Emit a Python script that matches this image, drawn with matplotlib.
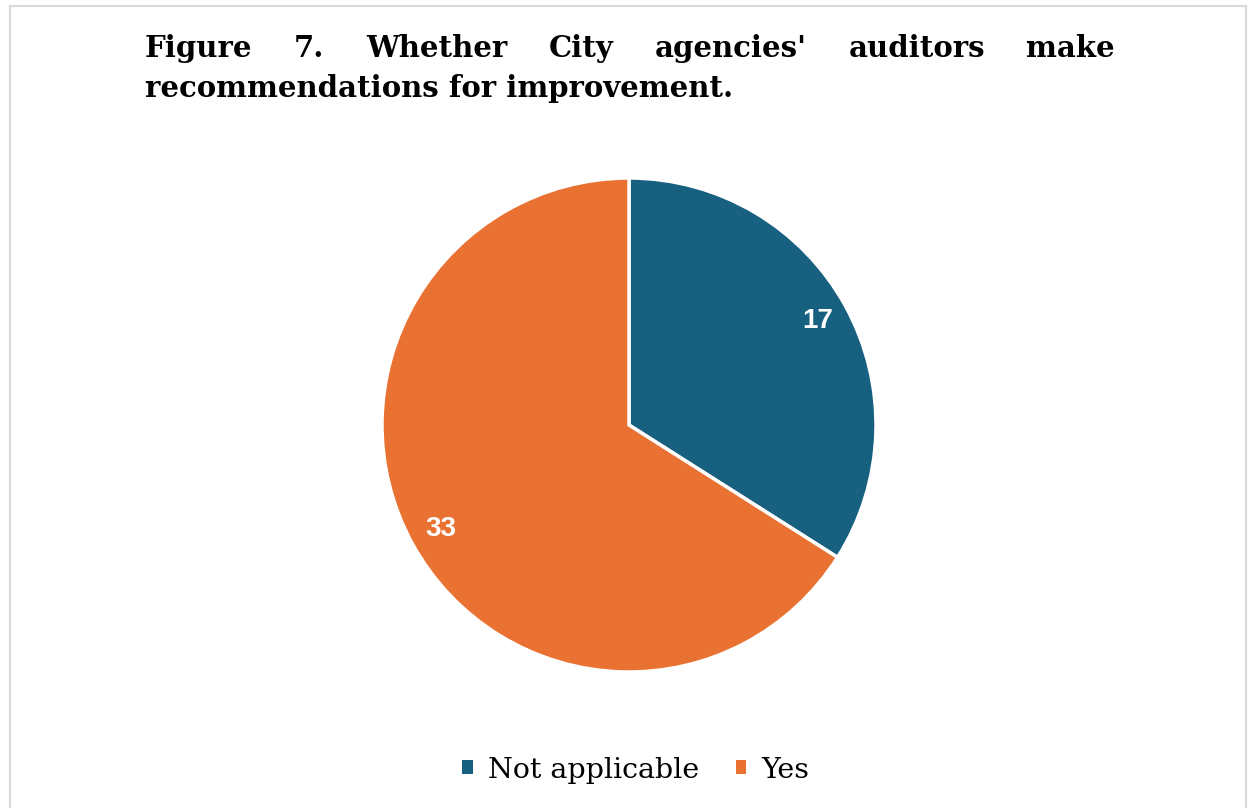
import matplotlib.pyplot as plt
from matplotlib.patches import Rectangle

TITLE_LINE1 = "Figure 7. Whether City agencies' auditors make".split()
TITLE_LINE2 = "recommendations for improvement."
LABELS = ["Not applicable", "Yes"]
VALUES = [17, 33]
COLORS = ["#17607F", "#E97132"]

W, H = 1248, 808
fig = plt.figure(figsize=(W / 100, H / 100), dpi=100)
fig.patch.set_facecolor("white")

# light grey frame round the chart area
fig.patches.append(Rectangle((10 / W, -0.05), (1246 / W) - (10 / W), (H - 6) / H + 0.05,
                             transform=fig.transFigure, fill=False,
                             edgecolor="#D9D9D9", linewidth=1.5))

title_kw = dict(fontsize=21, fontweight="bold", family="DejaVu Serif", color="#000000")

# first title line is justified between the two margins
left, right = 145, 1115
renderer = fig.canvas.get_renderer()
words = [fig.text(0, 0, w, va="baseline", ha="left", **title_kw) for w in TITLE_LINE1]
widths = [t.get_window_extent(renderer).width for t in words]
gap = (right - left - sum(widths)) / (len(words) - 1)
x = left
for t, w in zip(words, widths):
    t.set_position((x / W, 1 - 57 / H))
    x += w + gap
fig.text(left / W, 1 - 97 / H, TITLE_LINE2, va="baseline", ha="left", **title_kw)

ax = fig.add_axes([(629 - 247) / W, 1 - (425 + 247) / H, 494 / W, 494 / H])
wedges, texts = ax.pie(VALUES, colors=COLORS, startangle=90, counterclock=False,
                       labels=[str(v) for v in VALUES], labeldistance=0.87,
                       wedgeprops=dict(edgecolor="white", linewidth=2.5),
                       textprops=dict(color="white", fontsize=20, fontweight="bold",
                                      family="Liberation Sans"))
for t in texts:
    t.set_horizontalalignment("center")
    t.set_verticalalignment("center")
ax.set_aspect("equal")
ax.set_xlim(-1.0, 1.0)
ax.set_ylim(-1.0, 1.0)

leg = fig.legend(wedges, LABELS, loc="center", bbox_to_anchor=(636 / W, 1 - 770 / H),
                 ncol=2, frameon=False, handlelength=0.36, handleheight=0.36,
                 handletextpad=0.55, columnspacing=1.27,
                 prop=dict(family="DejaVu Serif", size=20.5))
for h in leg.legend_handles:
    h.set_edgecolor("none")

fig.savefig("out.png", dpi=100)
